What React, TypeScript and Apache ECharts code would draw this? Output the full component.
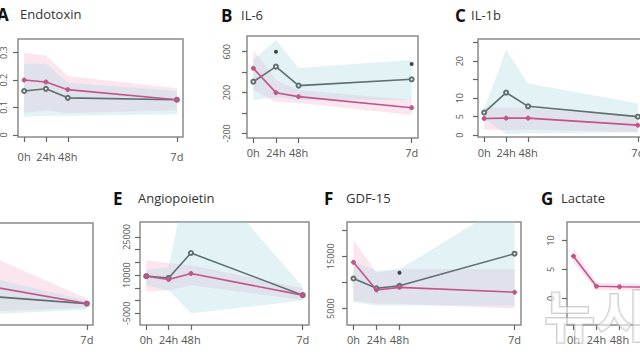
import React, { useEffect, useRef } from "react";
import * as echarts from "echarts";

// time points (hours) and their tick labels
const hours = [0, 24, 48, 168];
const hourLabels = ["0h", "24h", "48h", "7d"];

// A Endotoxin
const endoPink = [0.2, 0.193, 0.165, 0.128];
const endoGray = [0.16, 0.168, 0.135, 0.128];
const endoPinkHi = [0.3, 0.29, 0.215, 0.17];
const endoPinkLo = [0.08, 0.09, 0.08, 0.09];
const endoBlueHi = [0.26, 0.26, 0.19, 0.16];
const endoBlueLo = [0.065, 0.07, 0.07, 0.075];
const endoTicks = [0, 0.1, 0.2, 0.3];

// B IL-6
const il6Pink = [438, 199, 160, 52];
const il6Gray = [307, 454, 268, 330];
const il6PinkHi = [617, 323, 225, 127];
const il6PinkLo = [225, 108, 98, -20];
const il6BlueHi = [520, 715, 440, 520];
const il6BlueLo = [127, 157, 127, 127];
const il6StarX = [24, 168];
const il6StarY = [600, 480];
const il6Ticks = [-200, 0, 200, 400, 600];
const il6Labels = [-200, 200, 600];

// C IL-1b
const il1bPink = [4.5, 4.6, 4.6, 2.7];
const il1bGray = [6.1, 11.5, 7.8, 5];
const il1bPinkHi = [7.5, 7.5, 7.3, 5];
const il1bPinkLo = [1.5, 1.3, 1.5, 0.8];
const il1bBlueHi = [7, 23, 14, 8.6];
const il1bBlueLo = [4.5, 0.3, 0.5, 0.8];
const il1bTicks = [0, 5, 10, 15, 20, 25];
const il1bLabels = [0, 5, 10, 20];

// D (only its right part is visible)
const dPink = [60, 52, 40, 21];
const dGray = [42, 36, 29, 21];
const dPinkHi = [90, 85, 73, 26];
const dPinkLo = [30, 25, 13, 17];
const dBlueHi = [65, 60, 49, 24];
const dBlueLo = [20, 18, 10, 15];

// E Angiopoietin
const angPink = [9600, 8300, 10640, 2150];
const angGray = [9600, 8900, 18700, 2150];
const angPinkHi = [15850, 14700, 13900, 4900];
const angPinkLo = [3450, 4100, 6060, 200];
const angBlueHi = [12000, 13200, 56000, 5400];
const angBlueLo = [6000, 4100, -5000, 0];
const angTicks = [-5000, 0, 5000, 10000, 15000, 20000, 25000];
const angLabels = [-5000, 10000, 25000];

// F GDF-15
const gdfPink = [13860, 8560, 9060, 8130];
const gdfGray = [10750, 8880, 9360, 15490];
const gdfPinkHi = [18100, 11900, 12500, 12500];
const gdfPinkLo = [6550, 5930, 5930, 5000];
const gdfBlueHi = [14050, 12170, 12500, 26000];
const gdfBlueLo = [6250, 5600, 5600, 5600];
const gdfStarX = [48];
const gdfStarY = [11870];
const gdfTicks = [5000, 10000, 15000, 20000];
const gdfLabels = [5000, 15000];

// G Lactate
const lacPink = [7.3, 2.1, 2.0, 1.8];
const lacPinkHi = [8.7, 2.7, 2.6, 2.4];
const lacPinkLo = [6.1, 1.4, 1.4, 1.2];
const lacTicks = [0, 5, 10];

const PINK = "#c2548a";
const GRAY = "#5f6e6e";
const PINK_FILL = "rgba(240,165,200,0.28)";
const BLUE_FILL = "rgba(165,215,225,0.32)";
const FONT = "'Open Sans', 'DejaVu Sans', sans-serif";

type Panel = {
  letter: string;
  name: string;
  box: [number, number, number, number];
  y: [number, number];
  ticks: number[];
  labels: number[];
  yMargin: number;
  xMargin: number;
  title: [number, number, number];
  pink: number[];
  gray?: number[];
  pinkHi: number[];
  pinkLo: number[];
  blueHi?: number[];
  blueLo?: number[];
  starX?: number[];
  starY?: number[];
};

const panels: Panel[] = [
  { letter: "A", name: "Endotoxin", box: [18, 39, 165, 98], y: [-0.008, 0.35], ticks: endoTicks, labels: endoTicks, yMargin: 10, xMargin: 14, title: [-3, 20, 16],
    pink: endoPink, gray: endoGray, pinkHi: endoPinkHi, pinkLo: endoPinkLo, blueHi: endoBlueHi, blueLo: endoBlueLo },
  { letter: "B", name: "IL-6", box: [247, 36, 171, 102], y: [-245, 754], ticks: il6Ticks, labels: il6Labels, yMargin: 16, xMargin: 9, title: [221, 241, 17],
    pink: il6Pink, gray: il6Gray, pinkHi: il6PinkHi, pinkLo: il6PinkLo, blueHi: il6BlueHi, blueLo: il6BlueLo, starX: il6StarX, starY: il6StarY },
  { letter: "C", name: "IL-1b", box: [478, 39, 166, 98], y: [-0.5, 26], ticks: il1bTicks, labels: il1bLabels, yMargin: 14, xMargin: 10, title: [455, 471, 17],
    pink: il1bPink, gray: il1bGray, pinkHi: il1bPinkHi, pinkLo: il1bPinkLo, blueHi: il1bBlueHi, blueLo: il1bBlueLo },
  { letter: "D", name: "", box: [-72, 223, 165, 102], y: [0, 100], ticks: [], labels: [], yMargin: 10, xMargin: 9, title: [-200, -200, 200],
    pink: dPink, gray: dGray, pinkHi: dPinkHi, pinkLo: dPinkLo, blueHi: dBlueHi, blueLo: dBlueLo },
  { letter: "E", name: "Angiopoietin", box: [140, 222, 169, 103], y: [-9580, 30870], ticks: angTicks, labels: angLabels, yMargin: 9, xMargin: 9, title: [113, 138, 200],
    pink: angPink, gray: angGray, pinkHi: angPinkHi, pinkLo: angPinkLo, blueHi: angBlueHi, blueLo: angBlueLo },
  { letter: "F", name: "GDF-15", box: [347, 222, 174, 103], y: [1870, 21550], ticks: gdfTicks, labels: gdfLabels, yMargin: 12, xMargin: 9, title: [324, 346, 200],
    pink: gdfPink, gray: gdfGray, pinkHi: gdfPinkHi, pinkLo: gdfPinkLo, blueHi: gdfBlueHi, blueLo: gdfBlueLo, starX: gdfStarX, starY: gdfStarY },
  { letter: "G", name: "Lactate", box: [567, 222, 174, 103], y: [-4.6, 13.2], ticks: lacTicks, labels: lacTicks, yMargin: 12, xMargin: 9, title: [541, 561, 200],
    pink: lacPink, pinkHi: lacPinkHi, pinkLo: lacPinkLo },
];

function band(idx: number, hi: number[], lo: number[], fill: string) {
  return {
    type: "custom",
    xAxisIndex: idx,
    yAxisIndex: idx,
    silent: true,
    clip: true,
    z: 1,
    data: [[hours[0], lo[0]]],
    renderItem: (_p: any, api: any) => {
      const pts: number[][] = [];
      for (let i = 0; i < hours.length; i++) pts.push(api.coord([hours[i], hi[i]]));
      for (let i = hours.length - 1; i >= 0; i--) pts.push(api.coord([hours[i], lo[i]]));
      return { type: "polygon", shape: { points: pts }, style: { fill } };
    },
  };
}

function line(idx: number, vals: number[], color: string, hollow: boolean) {
  return {
    type: "line",
    xAxisIndex: idx,
    yAxisIndex: idx,
    data: hours.map((h, i) => [h, vals[i]]),
    symbol: hollow ? "emptyCircle" : "circle",
    symbolSize: 4,
    lineStyle: { color, width: 1.6 },
    itemStyle: { color, borderColor: color, borderWidth: 1 },
    z: hollow ? 3 : 4,
    silent: true,
  };
}

export default function App() {
  const ref = useRef<HTMLDivElement>(null);
  useEffect(() => {
    if (!ref.current) return;
    const chart = echarts.init(ref.current, undefined, { renderer: "svg" });
    const series: any[] = [];
    const graphic: any[] = [];
    panels.forEach((p, i) => {
      series.push(band(i, p.pinkHi, p.pinkLo, PINK_FILL));
      if (p.blueHi && p.blueLo) series.push(band(i, p.blueHi, p.blueLo, BLUE_FILL));
      if (p.gray) series.push(line(i, p.gray, GRAY, true));
      series.push(line(i, p.pink, PINK, false));
      if (p.starX && p.starY) {
        series.push({
          type: "scatter",
          xAxisIndex: i,
          yAxisIndex: i,
          data: p.starX.map((x, k) => [x, p.starY![k]]),
          symbol: "circle",
          symbolSize: 4,
          itemStyle: { color: "#1a1a1a" },
          z: 5,
          silent: true,
        });
      }
      graphic.push({
        type: "text",
        left: p.title[0],
        top: p.title[2] - 10,
        style: { text: p.letter, font: `bold 17px ${FONT}`, fill: "#111" },
      });
      if (p.name) {
        graphic.push({
          type: "text",
          left: p.title[1],
          top: p.title[2] - 9,
          style: { text: p.name, font: `13px ${FONT}`, fill: "#333" },
        });
      }
    });
    graphic.push({
      type: "text",
      left: 543,
      top: 283,
      silent: true,
      style: {
        text: "뉴시스",
        font: `bold 56px 'Noto Sans CJK KR', sans-serif`,
        fill: "rgba(255,255,255,0.55)",
        stroke: "rgba(170,170,170,0.55)",
        lineWidth: 2,
      },
      z: 100,
    });

    chart.setOption({
      animation: false,
      backgroundColor: "#ffffff",
      grid: panels.map((p) => ({
        left: p.box[0],
        top: p.box[1],
        width: p.box[2],
        height: p.box[3],
        show: true,
        borderColor: "#8c8c8c",
        borderWidth: 1.5,
        backgroundColor: "transparent",
        containLabel: false,
        outerBoundsMode: "none",
      })),
      xAxis: panels.map((p, i) => ({
        gridIndex: i,
        type: "value",
        position: "bottom",
        min: -6.72,
        max: 174.72,
        splitLine: { show: false },
        axisLine: { show: false, onZero: false },
        axisTick: { show: true, customValues: hours, length: 5, lineStyle: { color: "#666", width: 1.2 } },
        axisLabel: {
          customValues: hours,
          formatter: (v: number) => {
            const k = hours.indexOf(v);
            return k >= 0 ? hourLabels[k] : "";
          },
          color: "#555",
          fontSize: 11,
          fontFamily: FONT,
          margin: p.xMargin,
        },
      })),
      yAxis: panels.map((p, i) => ({
        gridIndex: i,
        type: "value",
        position: "left",
        min: p.y[0],
        max: p.y[1],
        splitLine: { show: false },
        axisLine: { show: false, onZero: false },
        axisTick: { show: p.ticks.length > 0, customValues: p.ticks, length: 5, lineStyle: { color: "#666", width: 1.2 } },
        axisLabel: {
          show: p.labels.length > 0,
          customValues: p.labels,
          formatter: (v: number) => String(v),
          rotate: 90,
          color: "#555",
          fontSize: 9,
          fontFamily: FONT,
          margin: p.yMargin,
        },
      })),
      series,
      graphic,
    });
    return () => chart.dispose();
  }, []);
  return (
    <div
      ref={ref}
      style={{ position: "fixed", left: 0, top: 0, width: 640, height: 360, background: "#fff" }}
    />
  );
}
